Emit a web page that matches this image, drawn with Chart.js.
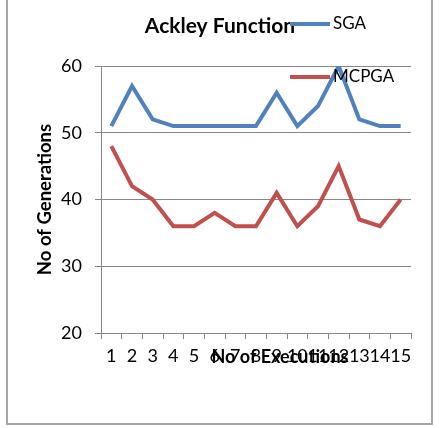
<!DOCTYPE html>
<html>
<head>
<meta charset="utf-8">
<script src="https://cdn.jsdelivr.net/npm/chart.js"></script>
<style>
    body { margin: 0; background: #fff; }
    #marco {
        position: absolute; left: 6px; top: -10px; width: 427px; height: 435px;
        box-sizing: border-box; border: 2px solid #a6a6a6;
    }
    #grafico { position: absolute; left: 0; top: 0; }
</style>
</head>
<body>
<div id="marco"></div>
<canvas id="grafico" width="439" height="428"></canvas>
<script>
// Datos del gráfico
const ejecuciones = ['1', '2', '3', '4', '5', '6', '7', '8', '9', '10', '11', '12', '13', '14', '15'];
const valoresSGA = [51, 57, 52, 51, 51, 51, 51, 51, 56, 51, 54, 60, 52, 51, 51];
const valoresMCPGA = [48, 42, 40, 36, 36, 38, 36, 36, 41, 36, 39, 45, 37, 36, 40];
const tituloGrafico = 'Ackley Function';
const tituloEjeX = 'No of Executions';
const tituloEjeY = 'No of Generations';

const fuente = 'Lato, Carlito, Calibri, sans-serif';
const colorGrilla = '#878787';

// Título, leyenda y título del eje X superpuestos, como en el original
const pluginSuperpuesto = {
    id: 'superpuesto',
    afterDraw: (chart) => {
        const ctx = chart.ctx;
        ctx.save();
        ctx.textBaseline = 'middle';
        ctx.fillStyle = '#000';
        ctx.textAlign = 'center';
        ctx.font = `bold 21px ${fuente}`;
        ctx.fillText(tituloGrafico, 220, 26);

        const posiciones = [[290, 24], [290, 77]];
        chart.data.datasets.forEach((ds, i) => {
            const [x, y] = posiciones[i];
            ctx.strokeStyle = ds.borderColor;
            ctx.lineWidth = 4;
            ctx.beginPath();
            ctx.moveTo(x, y);
            ctx.lineTo(x + 40, y);
            ctx.stroke();
            ctx.fillStyle = '#000';
            ctx.font = `17px ${fuente}`;
            ctx.textAlign = 'left';
            ctx.fillText(ds.label, x + 43, y);
        });

        ctx.font = `bold 18px ${fuente}`;
        ctx.textAlign = 'center';
        ctx.fillStyle = '#000';
        ctx.fillText(tituloEjeX, 280, 357);
        ctx.restore();
    }
};

const config = {
    type: 'line',
    data: {
        labels: ejecuciones,
        datasets: [{
            label: 'SGA',
            data: valoresSGA,
            borderColor: '#4f81bd',
            borderWidth: 4,
            pointRadius: 0,
            tension: 0
        }, {
            label: 'MCPGA',
            data: valoresMCPGA,
            borderColor: '#c0504d',
            borderWidth: 4,
            pointRadius: 0,
            tension: 0
        }]
    },
    options: {
        responsive: false,
        animation: false,
        layout: { padding: { left: 0, right: 28, top: 66, bottom: 0 } },
        plugins: {
            legend: { display: false },
            tooltip: { enabled: false },
            title: { display: false }
        },
        scales: {
            x: {
                offset: true,
                afterFit: (scale) => { scale.height = 95; },
                border: { color: colorGrilla, width: 1 },
                grid: { offset: true, drawOnChartArea: false, color: colorGrilla, tickLength: 6 },
                ticks: { color: '#000', font: { family: fuente, size: 18 }, padding: 6, maxRotation: 0, autoSkip: false }
            },
            y: {
                min: 20,
                max: 60,
                afterFit: (scale) => { scale.width = 101; },
                border: { color: colorGrilla, width: 1 },
                grid: { color: colorGrilla, tickLength: 6 },
                ticks: { stepSize: 10, color: '#000', font: { family: fuente, size: 18 }, padding: 13 },
                title: {
                    display: true,
                    text: tituloEjeY,
                    color: '#000',
                    font: { family: fuente, size: 18.5, weight: 'bold' },
                    padding: { top: 34, bottom: 0 }
                }
            }
        }
    },
    plugins: [pluginSuperpuesto]
};

new Chart(document.getElementById('grafico'), config);
</script>
</body>
</html>
